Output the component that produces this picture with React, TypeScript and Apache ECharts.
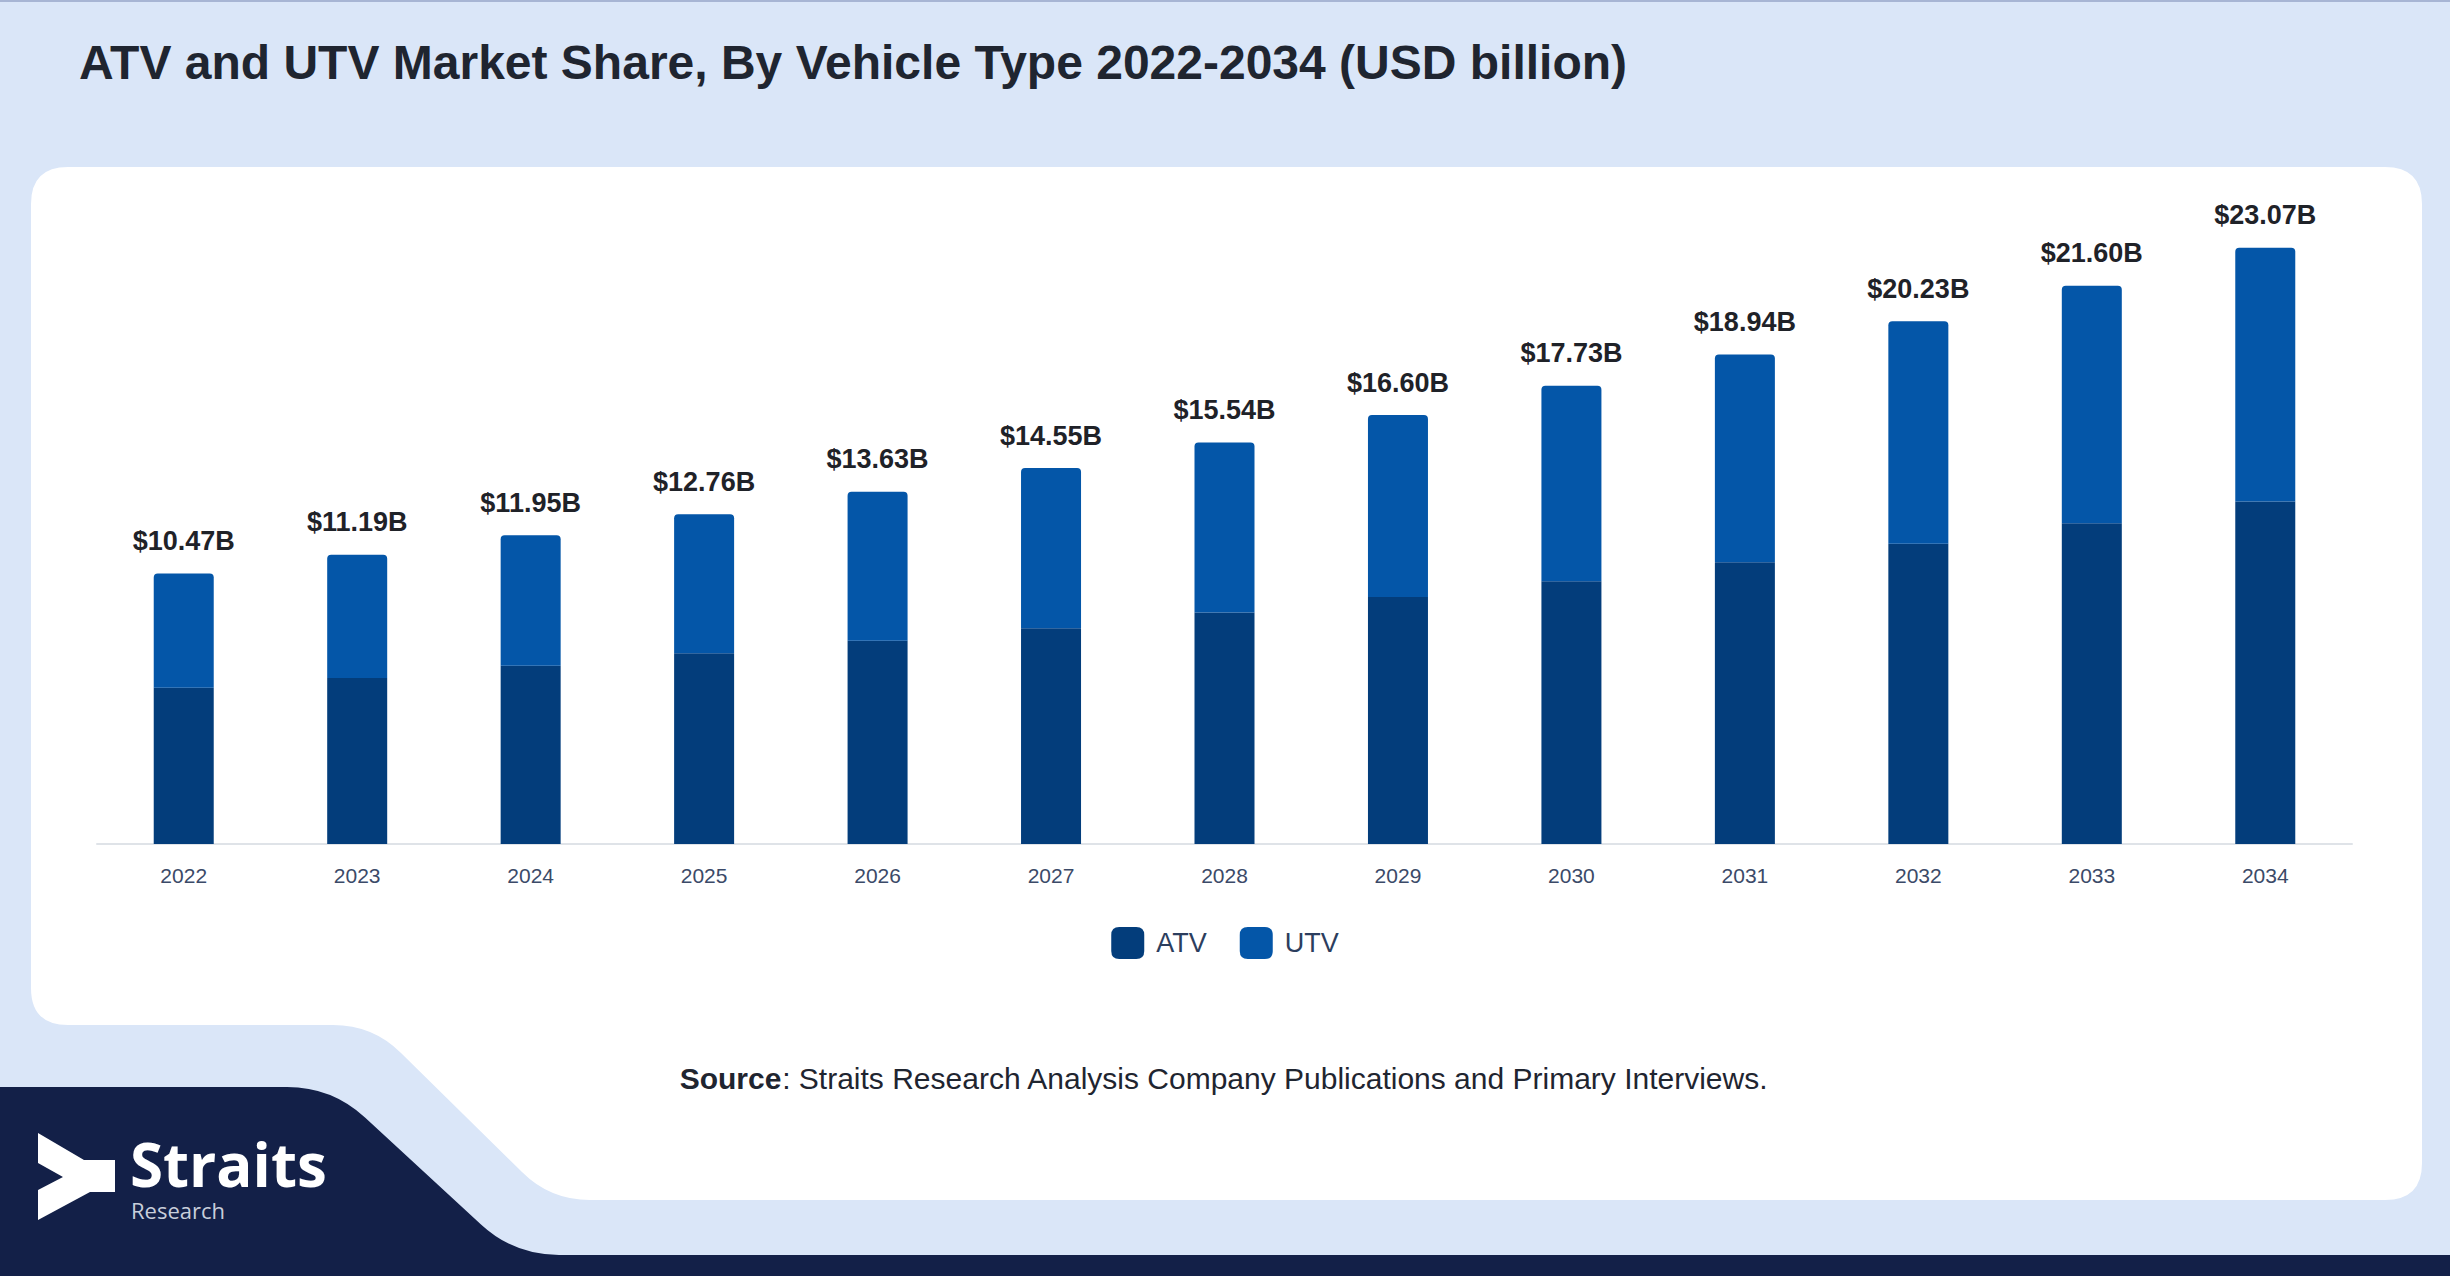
import React, { useEffect, useRef } from "react";
import * as echarts from "echarts";

const years = ["2022", "2023", "2024", "2025", "2026", "2027", "2028", "2029", "2030", "2031", "2032", "2033", "2034"];
const atvValues = [6.05, 6.42, 6.9, 7.38, 7.87, 8.35, 8.96, 9.56, 10.17, 10.9, 11.62, 12.41, 13.25];
const utvValues = [4.42, 4.77, 5.05, 5.38, 5.76, 6.2, 6.58, 7.04, 7.56, 8.04, 8.61, 9.19, 9.82];
const totalLabels = ["$10.47B", "$11.19B", "$11.95B", "$12.76B", "$13.63B", "$14.55B", "$15.54B", "$16.60B", "$17.73B", "$18.94B", "$20.23B", "$21.60B", "$23.07B"];
const seriesNames = ["ATV", "UTV"];
const titleText = "ATV and UTV Market Share, By Vehicle Type 2022-2034 (USD billion)";
const sourceLabel = "Source";
const sourceText = ": Straits Research Analysis Company Publications and Primary Interviews.";
const logoMain = "Straits";
const logoSub = "Research";

const W = 2450;
const H = 1276;
const FONT = "'Liberation Sans', Arial, sans-serif";

const cardPath =
  "M68,167 H2385 Q2422,167 2422,204 V1163 Q2422,1200 2385,1200 H590 Q550,1200 522,1172 L401,1053 Q373,1025 333,1025 H68 Q31,1025 31,988 V204 Q31,167 68,167 Z";
const navyPath =
  "M0,1087 H287 Q332,1087 365,1117.5 L481,1224.5 Q514,1255 559,1255 H2450 V1276 H0 Z";

echarts.graphic.registerShape("srCard", echarts.graphic.extendPath(cardPath, {}));
echarts.graphic.registerShape("srNavy", echarts.graphic.extendPath(navyPath, {}));

export default function App() {
  const ref = useRef<HTMLDivElement>(null);

  useEffect(() => {
    document.body.style.margin = "0";
    document.body.style.overflow = "hidden";
    if (!ref.current) return;
    const chart = echarts.init(ref.current, undefined, { renderer: "svg" });
    const legendIcon =
      "path://M8,0 H25 Q33,0 33,8 V24 Q33,32 25,32 H8 Q0,32 0,24 V8 Q0,0 8,0 Z";
    chart.setOption({
      animation: false,
      backgroundColor: "#dae6f8",
      title: {
        text: titleText,
        left: 74,
        top: 33,
        textStyle: { fontFamily: FONT, fontSize: 48, fontWeight: "bold", color: "#1f2530" },
      },
      graphic: [
        { type: "rect", z: -20, shape: { x: 0, y: 0, width: W, height: 2 }, style: { fill: "#a7b5d4" } },
        { type: "srCard", z: -10, x: 0, y: 0, style: { fill: "#ffffff" } },
        { type: "srNavy", z: -5, x: 0, y: 0, style: { fill: "#132048" } },
        {
          type: "polygon",
          z: 1,
          shape: {
            points: [
              [38, 1133],
              [84, 1160],
              [115, 1160],
              [115, 1192],
              [90, 1192],
              [38, 1220],
              [38, 1190],
              [63, 1177],
              [38, 1163],
            ],
          },
          style: { fill: "#ffffff" },
        },
        {
          type: "text",
          z: 1,
          x: 130,
          y: 1164,
          style: {
            text: logoMain,
            fill: "#ffffff",
            font: "bold 60px 'Open Sans', sans-serif",
            lineHeight: 44,
            verticalAlign: "middle",
          },
        },
        {
          type: "text",
          z: 1,
          x: 131,
          y: 1210,
          style: {
            text: logoSub,
            fill: "#c8cedb",
            font: "22px 'Open Sans', sans-serif",
            lineHeight: 16,
            verticalAlign: "middle",
          },
        },
        {
          type: "text",
          z: 1,
          x: 1224,
          y: 1078,
          style: {
            text: "{b|" + sourceLabel + "}{r|" + sourceText + "}",
            align: "center",
            verticalAlign: "middle",
            rich: {
              b: { fontFamily: FONT, fontSize: 30, fontWeight: "bold", fill: "#1f2530", color: "#1f2530" },
              r: { fontFamily: FONT, fontSize: 30, fill: "#1f2530", color: "#1f2530" },
            },
          },
        },
      ],
      legend: {
        data: seriesNames,
        left: "center",
        top: 922,
        itemWidth: 33,
        itemHeight: 32,
        itemGap: 33,
        icon: legendIcon,
        textStyle: { fontFamily: FONT, fontSize: 27, color: "#2c3e5e", padding: [0, 0, 0, 7] },
      },
      grid: { left: 97, right: 98, top: 198, bottom: 432, containLabel: false },
      xAxis: {
        type: "category",
        data: years,
        axisLine: { show: true, lineStyle: { color: "#dfe3e8", width: 2 } },
        axisTick: { show: false },
        axisLabel: { fontFamily: FONT, fontSize: 21, color: "#3b4a68", margin: 21 },
      },
      yAxis: { type: "value", min: 0, max: 25, show: false, splitLine: { show: false } },
      series: [
        {
          name: seriesNames[0],
          type: "bar",
          stack: "total",
          data: atvValues,
          barWidth: 60,
          itemStyle: { color: "#033d7b" },
        },
        {
          name: seriesNames[1],
          type: "bar",
          stack: "total",
          data: utvValues,
          barWidth: 60,
          itemStyle: { color: "#0456a8", borderRadius: [4, 4, 0, 0] },
          label: {
            show: true,
            position: "top",
            distance: 19,
            formatter: (p: any) => totalLabels[p.dataIndex],
            fontFamily: FONT,
            fontSize: 27,
            fontWeight: "bold",
            color: "#1f2228",
          },
        },
      ],
    });
    return () => {
      chart.dispose();
    };
  }, []);

  return <div ref={ref} style={{ width: W, height: H }} />;
}
